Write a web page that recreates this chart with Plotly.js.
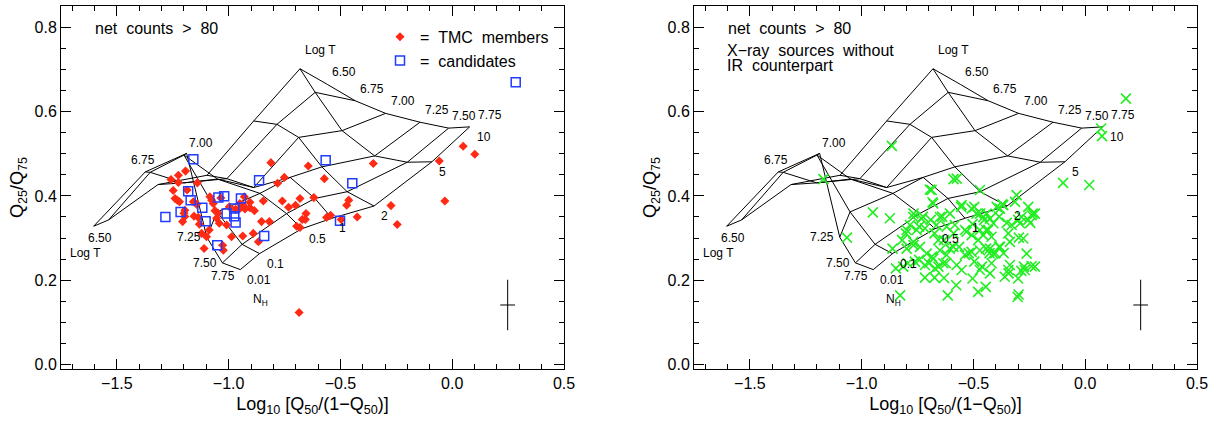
<!DOCTYPE html>
<html><head><meta charset="utf-8">
<script src="https://cdn.plot.ly/plotly-3.0.1.min.js"></script>
<style>html,body{margin:0;padding:0;background:#fff}#chart{width:1219px;height:421px}</style>
</head><body><div id="chart"></div>
<script>
// ---- model grid: rows = log T, columns = N_H (1e22 cm^-2)
const logT = ['6.50','6.75','7.00','7.25','7.50','7.75'];
const nH = ['0.01','0.1','0.5','1','2','5','10'];
const gridX = [
  [-1.604,-1.537,-1.316,-1.097,-0.888,-0.681,-0.559],
  [-1.373,-1.351,-1.201,-1.008,-0.784,-0.613,-0.434],
  [-1.188,-1.200,-1.050,-0.888,-0.687,-0.493,-0.298],
  [-1.098,-1.052,-0.860,-0.725,-0.583,-0.347,-0.144],
  [-1.028,-0.940,-0.741,-0.614,-0.470,-0.201,-0.016],
  [-0.948,-0.862,-0.673,-0.538,-0.350,-0.091, 0.078]
];
const gridY = [
  [0.328,0.343,0.427,0.449,0.578,0.702,0.665],
  [0.457,0.456,0.431,0.441,0.570,0.646,0.626],
  [0.501,0.497,0.440,0.420,0.539,0.555,0.596],
  [0.302,0.362,0.406,0.444,0.469,0.495,0.575],
  [0.241,0.285,0.358,0.394,0.410,0.480,0.561],
  [0.225,0.263,0.322,0.347,0.376,0.481,0.564]
];

// ---- TMC members (red diamonds)
const memberX = [-1.258,-1.225,-1.225,-1.193,-1.248,-1.240,-1.230,-1.220,-1.140,-1.196,-1.206,-1.196,-1.158,-1.143,-1.155,-1.136,-1.131,-1.121,-1.099,-1.110,
 -1.076,-1.084,-1.069,-1.061,-1.054,-1.087,-1.042,-1.024,-1.027,-1.009,-0.987,-0.997,-0.969,-0.950,-0.935,-0.927,-0.905,-0.885,-0.937,-0.890,
 -0.853,-0.818,-0.845,-0.811,-0.781,-0.751,-0.760,-0.732,-0.681,-0.696,-0.681,-0.671,-0.657,-0.654,-0.644,-0.619,-0.572,-0.562,-0.544,-0.472,
 -0.463,-0.425,0.049,0.101,-0.058,-0.353,-0.033,-0.274,-0.246,-0.701,-0.685,-0.867,-0.930,-0.905,-1.200,-1.047,-1.186,-0.950,-1.035,-0.497];
const memberY = [0.439,0.432,0.449,0.459,0.413,0.394,0.390,0.386,0.431,0.366,0.339,0.351,0.386,0.380,0.352,0.349,0.333,0.311,0.303,0.275,
 0.390,0.398,0.382,0.365,0.347,0.319,0.335,0.271,0.283,0.331,0.303,0.374,0.368,0.370,0.378,0.369,0.372,0.365,0.305,0.311,
 0.339,0.339,0.388,0.479,0.430,0.444,0.388,0.373,0.394,0.328,0.325,0.344,0.344,0.358,0.471,0.396,0.441,0.349,0.354,0.378,
 0.390,0.350,0.518,0.499,0.483,0.477,0.388,0.377,0.332,0.378,0.123,0.291,0.398,0.385,0.359,0.359,0.414,0.382,0.395,0.344];

// ---- candidates (blue squares)
const candX = [0.284,-1.158,-0.566,-0.864,-0.447,-1.181,-1.170,-1.046,-1.020,-0.945,-1.118,-0.975,-1.009,-0.975,-1.215,-1.283,-1.103,-0.969,-0.502,-0.841,-1.051];
const candY = [0.670,0.487,0.485,0.437,0.430,0.411,0.390,0.396,0.399,0.394,0.372,0.370,0.358,0.352,0.362,0.350,0.340,0.337,0.341,0.305,0.283];

// ---- X-ray sources without IR counterpart (green crosses)
const noIrX = [-0.575,-0.471,-0.687,-0.680,-0.307,-0.314,-0.396,-0.382,-0.553,-0.508,-0.486,-0.456,-0.441,-0.426,-0.605,-0.650,-0.732,-0.769,-0.784,-0.799,
 -0.754,-0.717,-0.665,-0.620,-0.583,-0.531,-0.508,-0.471,-0.456,-0.434,-0.419,-0.411,-0.344,-0.329,-0.285,-0.255,-0.240,-0.277,-0.337,-0.262,
 -0.381,-0.426,-0.411,-0.471,-0.508,-0.538,-0.590,-0.620,-0.650,-0.680,-0.709,-0.739,-0.769,-0.799,-0.762,-0.717,-0.672,-0.635,-0.575,-0.553,
 -0.814,-0.344,-0.337,-0.270,-0.225,-0.471,-0.426,
 0.182,0.071,0.075,0.018,-0.099,-0.865,-1.171,-0.950,-0.874,-1.066,-0.302,-0.298,-0.445,-0.479,-0.615,-0.577,-0.828,-0.847,-0.862,-0.300,
 -0.360,-0.632,-0.674,-0.717,-0.504,-0.589,-0.683,-0.695,-0.371,-0.367,-0.255,-0.225,-0.292,-0.235,-0.246,-0.351,-0.365,-0.297,-0.443,-0.402,
 -0.240,-0.274,-0.286,-0.343,-0.462,-0.428,-0.479,-0.794,-0.743,-0.700,-0.686,-0.606,-0.632,-0.589,-0.538,-0.504,-0.452,-0.443,-0.496,-0.555,
 -0.640,-0.691,-0.726,-0.743,-0.802,-0.819,-0.768,-0.674,-0.657,-0.564,-0.521,-0.496,-0.623,-0.657,-0.768,-0.470,-0.385,-0.385,-0.419,-0.300];
const noIrY = [0.441,0.414,0.414,0.382,0.402,0.386,0.374,0.370,0.378,0.370,0.358,0.350,0.358,0.346,0.358,0.350,0.346,0.350,0.331,0.319,
 0.319,0.323,0.331,0.327,0.331,0.315,0.307,0.319,0.307,0.319,0.303,0.335,0.311,0.331,0.350,0.343,0.354,0.299,0.291,0.263,
 0.279,0.275,0.263,0.271,0.267,0.260,0.279,0.260,0.271,0.251,0.263,0.279,0.291,0.275,0.244,0.236,0.228,0.240,0.236,0.224,
 0.232,0.224,0.236,0.224,0.232,0.224,0.216,
 0.631,0.560,0.542,0.426,0.431,0.519,0.440,0.361,0.347,0.301,0.160,0.166,0.184,0.172,0.164,0.188,0.164,0.228,0.275,0.204,
 0.208,0.205,0.206,0.206,0.204,0.440,0.385,0.415,0.380,0.378,0.374,0.358,0.335,0.358,0.336,0.336,0.264,0.301,0.275,0.264,
 0.233,0.232,0.222,0.216,0.232,0.264,0.295,0.240,0.248,0.240,0.256,0.275,0.295,0.311,0.319,0.333,0.343,0.319,0.374,0.374,
 0.351,0.343,0.351,0.327,0.311,0.295,0.283,0.311,0.295,0.279,0.264,0.244,0.240,0.232,0.358,0.358,0.351,0.279,0.240,0.343];

// ---- typical error bar
const errX = [0.248], errY = [0.141], errDx = [0.033], errDy = [0.06];

// ---- build wireframe polylines from the grid
function wire() {
  const xs = [], ys = [];
  for (let i = 0; i < gridX.length; i++) {
    for (let j = 0; j < gridX[i].length; j++) { xs.push(gridX[i][j]); ys.push(gridY[i][j]); }
    xs.push(null); ys.push(null);
  }
  for (let j = 0; j < gridX[0].length; j++) {
    for (let i = 0; i < gridX.length; i++) { xs.push(gridX[i][j]); ys.push(gridY[i][j]); }
    xs.push(null); ys.push(null);
  }
  return {xs, ys};
}
const w = wire();
const FONT = 'Liberation Sans, Arial, sans-serif';
const NB = '\u00a0';
const nT = logT.length, nN = nH.length;

const traces = [];
[['x','y'],['x2','y2']].forEach(([xa, ya]) => {
  traces.push({x: w.xs, y: w.ys, xaxis: xa, yaxis: ya, mode: 'lines', line: {color: '#000', width: 1},
    hoverinfo: 'skip', showlegend: false, connectgaps: false});
  traces.push({x: errX, y: errY, xaxis: xa, yaxis: ya, mode: 'markers', showlegend: false,
    marker: {size: 1, color: 'rgba(0,0,0,0)'},
    error_x: {type: 'data', array: errDx, width: 0, color: '#000', thickness: 1},
    error_y: {type: 'data', array: errDy, width: 0, color: '#000', thickness: 1}});
});
traces.push({x: memberX, y: memberY, xaxis: 'x', yaxis: 'y', mode: 'markers', name: '=' + NB + NB + 'TMC' + NB + NB + 'members',
  marker: {symbol: 'diamond', size: 7, color: '#ff2a14'}});
traces.push({x: candX, y: candY, xaxis: 'x', yaxis: 'y', mode: 'markers', name: '=' + NB + NB + 'candidates',
  marker: {symbol: 'square-open', size: 9, color: '#1f3cff', line: {width: 1.5, color: '#1f3cff'}}});
traces.push({x: noIrX, y: noIrY, xaxis: 'x2', yaxis: 'y2', mode: 'markers', showlegend: false,
  marker: {symbol: 'x-thin-open', size: 10, color: '#22ee22', line: {width: 1.6, color: '#22ee22'}}});

// ---- annotations (grid labels anchored to grid vertices)
function gridLabels(xr, yr) {
  const a = [];
  const lf = {family: FONT, size: 12, color: '#000'};
  const lowShift = [[6,-12],[-2,12],[14,10],[-18,0],[-17,0],[-17,-6]];
  const topShift = [[17,12],[17,12],[17,12],[17,12],[15,12],[20,12]];
  for (let i = 0; i < nT; i++) {
    a.push({xref: xr, yref: yr, x: gridX[i][0], y: gridY[i][0], text: logT[i], showarrow: false, font: lf,
      xshift: lowShift[i][0], yshift: lowShift[i][1]});
    a.push({xref: xr, yref: yr, x: gridX[i][nN-1], y: gridY[i][nN-1], text: logT[i], showarrow: false, font: lf,
      xshift: topShift[i][0], yshift: topShift[i][1]});
  }
  for (let j = 0; j < nN; j++) {
    a.push({xref: xr, yref: yr, x: gridX[nT-1][j], y: gridY[nT-1][j], text: nH[j], showarrow: false, font: lf,
      xanchor: 'left', xshift: 5, yshift: -10});
  }
  a.push({xref: xr, yref: yr, x: gridX[0][nN-1], y: gridY[0][nN-1], text: 'Log' + NB + 'T', showarrow: false, font: lf, xshift: -7, yshift: 34});
  a.push({xref: xr, yref: yr, x: gridX[0][0], y: gridY[0][0], text: 'Log' + NB + 'T', showarrow: false, font: lf, xshift: -8, yshift: -27});
  a.push({xref: xr, yref: yr, x: gridX[nT-1][0], y: gridY[nT-1][0], text: 'N<sub>H</sub>', showarrow: false, font: lf, xshift: 20, yshift: -30});
  return a;
}
const tf = {family: FONT, size: 16, color: '#000'};
const sp = NB + NB;
const annotations = [].concat(gridLabels('x','y'), gridLabels('x2','y2'), [
  {xref: 'x', yref: 'y', x: -1.607, y: 0.798, text: 'net' + sp + 'counts' + sp + '>' + sp + '80', showarrow: false, xanchor: 'left', font: tf},
  {xref: 'x2', yref: 'y2', x: -1.607, y: 0.798, text: 'net' + sp + 'counts' + sp + '>' + sp + '80', showarrow: false, xanchor: 'left', font: tf},
  {xref: 'x2', yref: 'y2', x: -1.612, y: 0.746, text: 'X\u2212ray' + sp + 'sources' + sp + 'without', showarrow: false, xanchor: 'left', font: tf},
  {xref: 'x2', yref: 'y2', x: -1.612, y: 0.709, text: 'IR' + sp + 'counterpart', showarrow: false, xanchor: 'left', font: tf}
]);

function xAxis(domain) {
  return {domain, range: [-1.75, 0.5], tick0: 0, dtick: 0.5, tickformat: '.1f', ticks: 'inside', ticklen: 10,
    tickcolor: '#000', showline: true, linecolor: '#000', linewidth: 1, mirror: 'ticks', showgrid: false, zeroline: false,
    minor: {dtick: 0.1, ticks: 'inside', ticklen: 5, tickcolor: '#000', showgrid: false},
    tickfont: {family: FONT, size: 16, color: '#000'},
    title: {text: 'Log<sub>10</sub> [Q<sub>50</sub>/(1\u2212Q<sub>50</sub>)]', font: {family: FONT, size: 18, color: '#000'}, standoff: 6}};
}
function yAxis(anchor) {
  return {domain: [0, 1], anchor, range: [-0.011, 0.851], tick0: 0, dtick: 0.2, tickformat: '.1f', ticks: 'inside', ticklen: 10,
    tickcolor: '#000', showline: true, linecolor: '#000', linewidth: 1, mirror: 'ticks', showgrid: false, zeroline: false,
    minor: {dtick: 0.05, ticks: 'inside', ticklen: 5, tickcolor: '#000', showgrid: false},
    tickfont: {family: FONT, size: 16, color: '#000'},
    title: {text: 'Q<sub>25</sub>/Q<sub>75</sub>', font: {family: FONT, size: 18, color: '#000'}, standoff: 6}};
}
const layout = {
  width: 1219, height: 421, margin: {l: 0, r: 0, t: 6, b: 52},
  paper_bgcolor: '#fff', plot_bgcolor: '#fff', font: {family: FONT, color: '#000'},
  xaxis: Object.assign(xAxis([61/1219, 564/1219]), {anchor: 'y'}),
  yaxis: yAxis('x'),
  xaxis2: Object.assign(xAxis([694/1219, 1197/1219]), {anchor: 'y2'}),
  yaxis2: yAxis('x2'),
  showlegend: true,
  legend: {x: 380/1219, y: 1 - 16/421, xanchor: 'left', yanchor: 'top', bgcolor: 'rgba(0,0,0,0)',
    font: {family: FONT, size: 16, color: '#000'}, itemwidth: 30, tracegroupgap: 0},
  annotations
};
Plotly.newPlot('chart', traces, layout, {staticPlot: true, displayModeBar: false});
</script></body></html>
